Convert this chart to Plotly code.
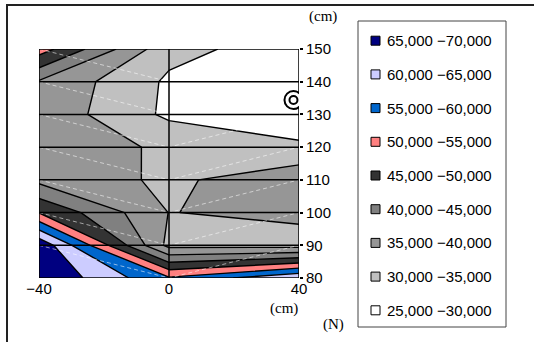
import plotly.graph_objects as go

# Measurement grid: horizontal position (cm) x height (cm)
x_cm = [-40, 0, 40]
y_cm = [80, 90, 100, 110, 120, 130, 140, 150]

# Force (N) per height row (bottom to top), one value per horizontal position
force_n = [
    [69800, 55600, 64500],  # 80 cm
    [69000, 33500, 33000],  # 90 cm
    [49800, 34900, 36100],  # 100 cm
    [38700, 34000, 38400],  # 110 cm
    [37600, 34300, 31000],  # 120 cm
    [38600, 29000, 26200],  # 130 cm
    [39500, 29200, 27000],  # 140 cm
    [52400, 31500, 27500],  # 150 cm
]

# Contour bands (low bound, high bound, fill colour), high to low as in the key
band_low = [65000, 60000, 55000, 50000, 45000, 40000, 35000, 30000, 25000]
band_high = [70000, 65000, 60000, 55000, 50000, 45000, 40000, 35000, 30000]
band_color = ["#000080", "#CCCCFF", "#0066CC", "#FF8080", "#333333",
              "#808080", "#969696", "#C0C0C0", "#FFFFFF"]

x_tick_vals = [-40, 0, 40]
x_tick_text = ["\u221240", "0", "40"]
y_tick_vals = [80, 90, 100, 110, 120, 130, 140, 150]

# Marked point (double circle)
mark_x = [38.3]
mark_y = [134.4]

W, H = 534, 342
SANS = "Liberation Sans, Arial, sans-serif"
SERIF = "Liberation Serif, Times New Roman, serif"


def px(x):
    return x / W


def py(y):
    return 1 - y / H


levels = sorted(band_low)[1:]          # contour levels 30k .. 65k
colors_low_to_high = band_color[::-1]
n = len(colors_low_to_high) - 1
colorscale = [[i / n, c] for i, c in enumerate(colors_low_to_high)]

fig = go.Figure()
fig.add_trace(go.Contour(
    x=x_cm, y=y_cm, z=force_n,
    autocontour=False,
    contours=dict(start=levels[0], end=levels[-1], size=levels[1] - levels[0],
                  coloring="fill", showlines=True),
    line=dict(color="black", width=1.4, smoothing=0),
    colorscale=colorscale, showscale=False, hoverinfo="skip",
))

# faint cell diagonals of the measurement grid
diag_x, diag_y = [], []
for y_bot, y_top in zip(y_cm[:-1], y_cm[1:]):
    diag_x += [x_cm[0], x_cm[1], x_cm[2], None]
    diag_y += [y_top, y_bot, y_top, None]
fig.add_trace(go.Scatter(x=diag_x, y=diag_y, mode="lines", hoverinfo="skip",
                         line=dict(color="rgba(255,255,255,0.55)", width=1, dash="4px,3px")))

shapes = []
# horizontal grid lines at every height tick, vertical line at x = 0
for yv in y_tick_vals[1:-1]:
    shapes.append(dict(type="line", xref="x", yref="y", x0=x_cm[0], x1=x_cm[-1],
                       y0=yv, y1=yv, line=dict(color="black", width=1.5), layer="above"))
shapes.append(dict(type="line", xref="x", yref="y", x0=0, x1=0,
                   y0=y_cm[0], y1=y_cm[-1], line=dict(color="black", width=1.5), layer="above"))
# plot frame
shapes.append(dict(type="rect", xref="x", yref="y", x0=x_cm[0], x1=x_cm[-1],
                   y0=y_cm[0], y1=y_cm[-1], line=dict(color="black", width=1.5), layer="above"))
# double circle mark
for size in (9, 4):
    shapes.append(dict(type="circle", xref="x", yref="y", xsizemode="pixel", ysizemode="pixel",
                       xanchor=mark_x[0], yanchor=mark_y[0], x0=-size, x1=size, y0=-size, y1=size,
                       fillcolor="white", line=dict(color="black", width=2), layer="above"))
# chart outer frame
shapes.append(dict(type="rect", xref="paper", yref="paper", x0=px(7), x1=px(W + 10),
                   y0=py(H + 10), y1=py(5), line=dict(color="#222222", width=2)))

# key box with swatches
key_left, key_right, key_top, key_bottom = 358, 506, 21, 327
shapes.append(dict(type="rect", xref="paper", yref="paper", x0=px(key_left), x1=px(key_right),
                   y0=py(key_bottom), y1=py(key_top), line=dict(color="#444444", width=1)))
annotations = []
row0, row_step = 40.7, 33.7
for i, (lo, hi, col) in enumerate(zip(band_low, band_high, band_color)):
    yc = row0 + i * row_step
    shapes.append(dict(type="rect", xref="paper", yref="paper", x0=px(371), x1=px(380),
                       y0=py(yc + 4.5), y1=py(yc - 4.5), fillcolor=col,
                       line=dict(color="black", width=1)))
    annotations.append(dict(xref="paper", yref="paper", x=px(385), y=py(yc),
                            xanchor="left", yanchor="middle", showarrow=False,
                            text=f"{lo:,} \u2212{hi:,}", font=dict(family=SANS, size=15, color="black")))

# unit labels
for txt, xx, yy in (("(cm)", 323, 17), ("(cm)", 284, 308), ("(N)", 333, 324)):
    annotations.append(dict(xref="paper", yref="paper", x=px(xx), y=py(yy), xanchor="center",
                            yanchor="middle", showarrow=False, text=txt,
                            font=dict(family=SERIF, size=15, color="black")))

fig.update_layout(
    width=W, height=H, margin=dict(l=0, r=0, t=0, b=0),
    paper_bgcolor="white", plot_bgcolor="white", showlegend=False,
    xaxis=dict(domain=[px(39), px(299)], range=[x_cm[0], x_cm[-1]], tickvals=x_tick_vals,
               ticktext=x_tick_text, showgrid=False, zeroline=False, showline=False, ticks="",
               automargin=False, tickfont=dict(family=SANS, size=15, color="black")),
    yaxis=dict(domain=[py(278), py(49)], range=[y_cm[0], y_cm[-1]], side="right",
               tickvals=y_tick_vals, showgrid=False, zeroline=False, showline=False,
               ticks="outside", ticklen=3, tickwidth=1.5, tickcolor="black", automargin=False,
               tickfont=dict(family=SANS, size=15, color="black")),
    shapes=shapes, annotations=annotations,
)

fig.write_html("out.html")
